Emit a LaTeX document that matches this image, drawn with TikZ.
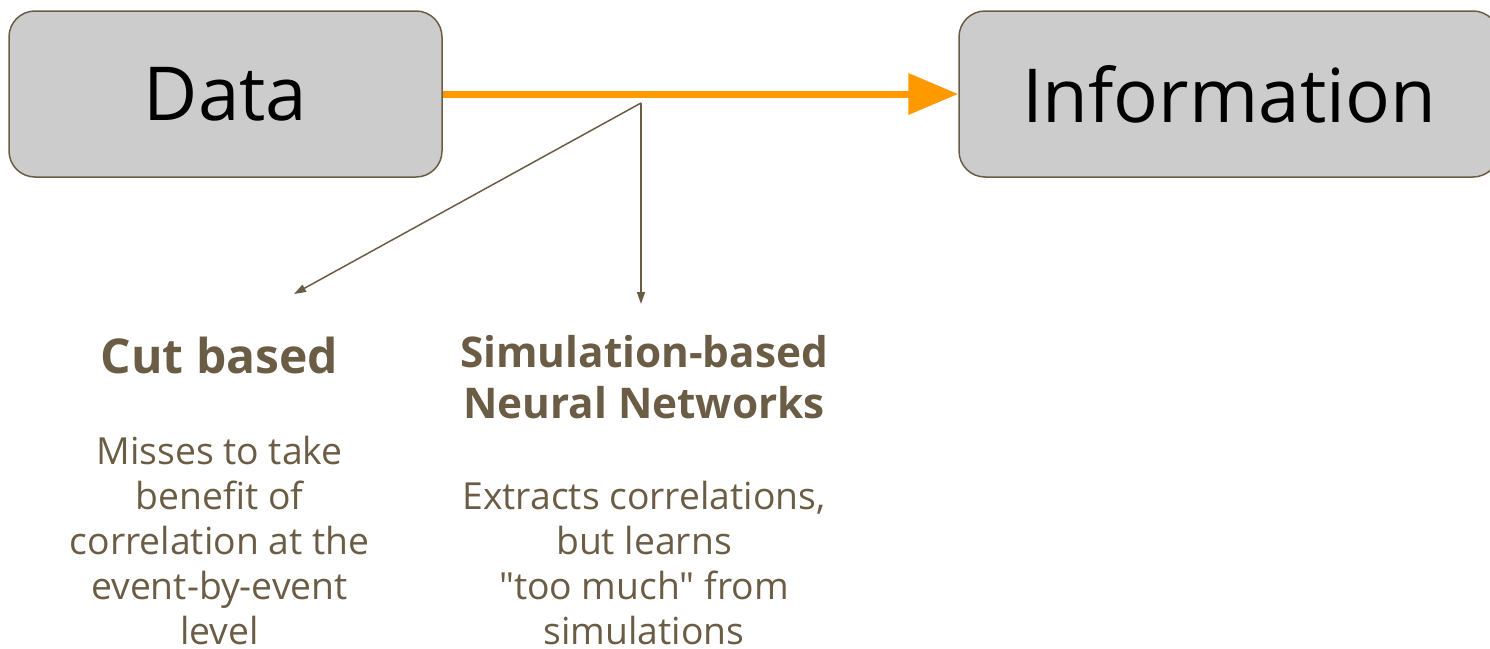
\documentclass[tikz,border=0pt]{standalone}
\usepackage{fontspec}
\setmainfont{Open Sans}[Ligatures=TeXOff]
\usetikzlibrary{arrows.meta}
\definecolor{ink}{HTML}{6B5D45}
\definecolor{boxfill}{HTML}{CCCCCC}
\definecolor{flow}{HTML}{FF9900}
\tikzset{
  stage/.style={draw=ink, line width=1.5pt, fill=boxfill, rounded corners=26pt,
    minimum height=166pt, inner sep=0pt, text=black,
    font=\fontsize{74.5}{77}\selectfont},
  mainflow/.style={draw=flow, line width=7pt, -{Triangle[length=50pt,width=40pt]}},
  branch/.style={draw=ink, line width=1.5pt, -{Triangle[length=12pt,width=8pt]}},
  % multi-line texts are anchored at the baseline of their last line
  heading/.style={text=ink, align=center, inner sep=0pt, anchor=base,
    font=\bfseries\fontsize{42.3}{51}\selectfont},
  body/.style={text=ink, align=center, inner sep=0pt, anchor=base,
    font=\fontsize{37.3}{45}\selectfont},
}
\begin{document}
\begin{tikzpicture}[x=1pt, y=-1pt]
  \useasboundingbox (0,0) rectangle (1490,648);

  % stages
  \node[stage, minimum width=433pt] (data) at (225.5,94) {Data};
  \node[stage, minimum width=540pt] (info) at (1229,94) {Information};

  % main flow
  \draw[mainflow] (data.east) -- (info.west);

  % branches to the two approaches
  \coordinate (split) at (641,103);
  \coordinate (cutend) at (294,294);
  \coordinate (simend) at (641,304);
  \draw[branch] (split) -- (cutend);
  \draw[branch] (split) -- (simend);

  % approach: cut based
  \node[heading, font=\bfseries\fontsize{48}{56}\selectfont] (cuthead) at (219.5,373) {Cut based};
  \node[body] (cuttext) at (219.5,644) {Misses to take\\benefit of\\correlation at the\\event-by-event\\level};

  % approach: simulation-based neural networks
  \node[heading] (simhead) at (644,418) {Simulation-based\\Neural Networks};
  \node[body] (simtext) at (644,644) {Extracts correlations,\\but learns\\"too much" from\\simulations};
\end{tikzpicture}
\end{document}
